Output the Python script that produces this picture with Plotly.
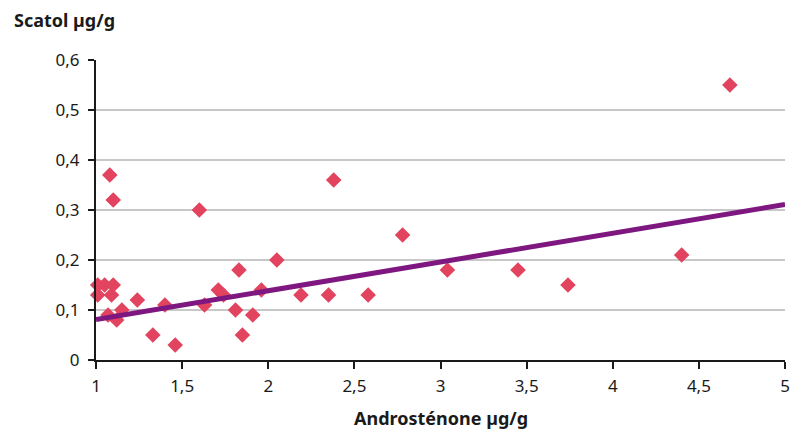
import plotly.graph_objects as go

androstenone = [1.08, 1.10, 1.60, 1.01, 1.05, 1.10, 1.01, 1.09, 1.07, 1.15, 1.12, 1.24, 1.33,
                1.40, 1.46, 1.63, 1.71, 1.74, 1.83, 1.81, 1.85, 1.91, 1.96, 2.05, 2.19, 2.38,
                2.35, 2.58, 2.78, 3.04, 3.45, 3.74, 4.40, 4.68]
scatol = [0.37, 0.32, 0.30, 0.15, 0.15, 0.15, 0.13, 0.13, 0.09, 0.10, 0.08, 0.12, 0.05,
          0.11, 0.03, 0.11, 0.14, 0.13, 0.18, 0.10, 0.05, 0.09, 0.14, 0.20, 0.13, 0.36,
          0.13, 0.13, 0.25, 0.18, 0.18, 0.15, 0.21, 0.55]
trend_x = [1, 5]
trend_y = [0.081, 0.311]

x_ticks = [1, 1.5, 2, 2.5, 3, 3.5, 4, 4.5, 5]
y_ticks = [0, 0.1, 0.2, 0.3, 0.4, 0.5, 0.6]

FONT = "Noto Sans"
TXT = "#1a1a1a"

W, H = 793, 430
ML, MR, MT, MB = 96, 8, 60, 70
PW, PH = W - ML - MR, H - MT - MB

fig = go.Figure()
fig.add_trace(go.Scatter(x=androstenone, y=scatol, mode="markers",
                         marker=dict(symbol="diamond", size=12, color="#e2445f"),
                         cliponaxis=False, showlegend=False))
fig.add_trace(go.Scatter(x=trend_x, y=trend_y, mode="lines",
                         line=dict(color="#7e1880", width=5),
                         cliponaxis=False, showlegend=False))

fig.update_layout(
    width=W, height=H,
    margin=dict(l=ML, r=MR, t=MT, b=MB, autoexpand=False),
    paper_bgcolor="white", plot_bgcolor="white",
    separators=", ",
    font=dict(family=FONT, size=17, color=TXT),
    xaxis=dict(range=[1, 5], tickvals=x_ticks, showgrid=False, zeroline=False,
               automargin=False, ticklabeloverflow="allow",
               showline=True, linecolor=TXT, linewidth=2,
               ticks="outside", ticklen=7, tickcolor=TXT, tickwidth=1.5,
               ticklabelstandoff=3,
               tickfont=dict(size=17)),
    yaxis=dict(range=[0, 0.6], tickvals=y_ticks, showgrid=True, gridcolor="#c8c8c8",
               gridwidth=2, zeroline=False, automargin=False, ticklabeloverflow="allow",
               showline=True, linecolor=TXT, linewidth=2,
               ticks="outside", ticklen=6, tickcolor=TXT, tickwidth=1.5,
               ticklabelstandoff=5,
               tickfont=dict(size=17)),
    annotations=[
        dict(text="<b>Scatol µg/g</b>", xref="paper", yref="paper", x=-84 / PW, y=1 + 40 / PH,
             xanchor="left", yanchor="middle", showarrow=False,
             font=dict(size=18, family=FONT, color=TXT)),
        dict(text="<b>Androsténone µg/g</b>", xref="paper", yref="paper", x=(441 - ML) / PW,
             y=-58 / PH, xanchor="center", yanchor="middle", showarrow=False,
             font=dict(size=18, family=FONT, color=TXT)),
    ],
)

fig.write_html("out.html",
               config={"displayModeBar": False},
               post_script="document.body.style.margin='0';document.body.style.overflow='hidden';")
